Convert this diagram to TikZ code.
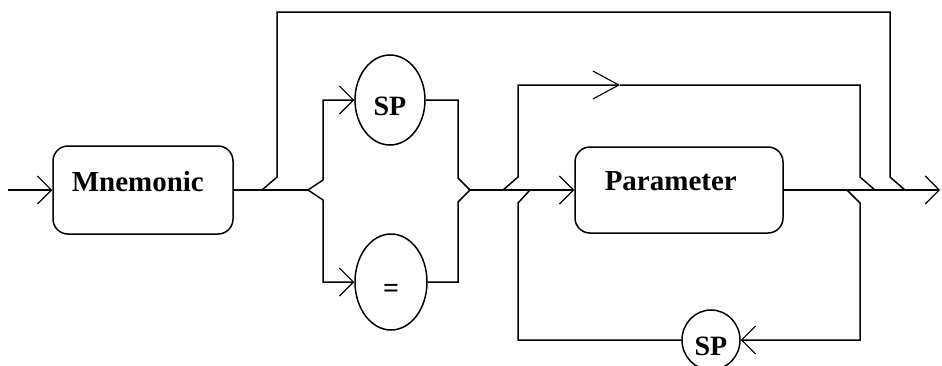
\documentclass[tikz,border=0pt]{standalone}
\usepackage{fontspec}
\setmainfont{Liberation Serif}
\usetikzlibrary{arrows.meta,shapes.geometric}
\begin{document}
\begin{tikzpicture}[x=1pt,y=-1pt,
  line width=1.5pt,
  box/.style={draw,rounded corners=15pt,minimum width=180pt,minimum height=88pt,inner sep=0pt},
  pbox/.style={draw,rounded corners=15pt,minimum width=208pt,minimum height=86pt,inner sep=0pt},
  oval/.style={draw,ellipse,inner sep=0pt,text height=30pt,text depth=0pt,font=\fontsize{28}{30}\selectfont\bfseries},
  lbl/.style={inner sep=0pt,font=\fontsize{29}{32}\selectfont\bfseries},
  arr/.style={-{Straight Barb[length=14pt,width=28pt,line width=1.1pt]}},
  longarr/.style={-{Straight Barb[length=26pt,width=28pt,line width=1.1pt]}}]
\useasboundingbox (0,0) rectangle (942,365);
% nodes
\node[box] (mn) at (143,190) {};
\node[lbl,anchor=west] (mnt) at (71,182) {Mnemonic};
\node[oval,minimum width=70pt,minimum height=90pt] (sp1) at (390,100) {SP};
\node[oval,minimum width=72pt,minimum height=96pt] (eq) at (391,282) {=};
\node[pbox] (pa) at (679,190) {};
\node[lbl,anchor=west] (pat) at (604,181) {Parameter};
\node[oval,minimum width=58pt,minimum height=60pt] (sp2) at (711,340) {SP};
% coordinates
\coordinate (start) at (8,190);
\coordinate (j1) at (262,190);
\coordinate (j2) at (308,190);
\coordinate (j3) at (470,190);
\coordinate (j4) at (503,190);
\coordinate (j5) at (530,190);
\coordinate (j6) at (847,190);
\coordinate (j7) at (875,190);
\coordinate (j8) at (905,190);
\coordinate (tarr) at (620,85);
\coordinate (endp) at (940,190);
% main line
\draw[arr] (start) -- (mn.west);
\draw (mn.east) -- (j2);
\draw[arr] (j3) -- (pa.west);
\draw[arr] (pa.east) -- (endp);
% outer bypass
\draw (j1) -- (277,177) -- (277,12) -- (890,12) -- (890,177) -- (j8);
% SP / = choice
\draw[arr] (j2) -- (323,180) -- (323,100) -- (sp1.west);
\draw[arr] (j2) -- (323,200) -- (323,282) -- (eq.west);
\draw (sp1.east) -- (458,100) -- (458,178) -- (j3);
\draw (eq.east) -- (458,282) -- (458,202) -- (j3);
% parameter skip
\draw[longarr] (j4) -- (518,177) -- (518,85) -- (tarr);
\draw (tarr) -- (860,85) -- (860,177) -- (j7);
% parameter repeat
\draw[arr] (j6) -- (860,203) -- (860,340) -- (sp2.east);
\draw (sp2.west) -- (518,340) -- (518,203) -- (j5);
\end{tikzpicture}
\end{document}
